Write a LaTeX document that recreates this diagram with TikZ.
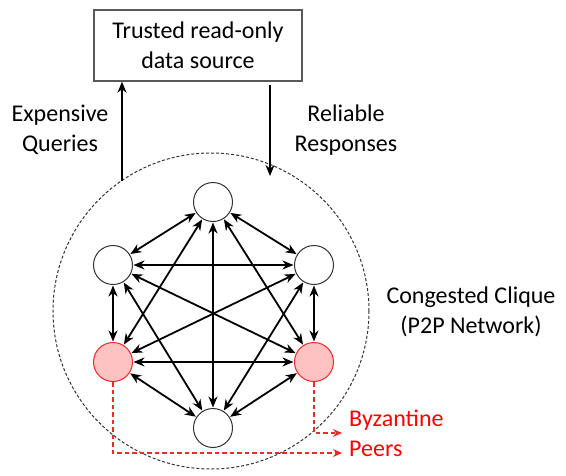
\documentclass[tikz,border=0pt]{standalone}
\usepackage{fontspec}
\setmainfont{Carlito}
\usetikzlibrary{arrows.meta}
\definecolor{pinkfill}{HTML}{FFC2C2}
\definecolor{redline}{HTML}{F02828}
\definecolor{redtext}{HTML}{FF0000}
\tikzset{
  peer/.style={circle, draw=black!80, line width=1pt, minimum size=39pt, inner sep=0pt, fill=white},
  byz/.style={peer, draw=redline, fill=pinkfill},
  link/.style={{Stealth[length=11pt,width=9pt,inset=3.5pt]}-{Stealth[length=11pt,width=9pt,inset=3.5pt]}, line width=1.8pt, shorten <=0.5pt, shorten >=0.5pt},
  flow/.style={-{Stealth[length=11pt,width=9pt,inset=3.5pt]}, line width=1.8pt},
  redflow/.style={-{Stealth[length=9pt,width=8pt,inset=3pt]}, redline, dash pattern=on 4.5pt off 3pt, line width=1.2pt},
  lbl/.style={align=center, font=\fontsize{24}{30}\selectfont, inner sep=0pt},
}
\begin{document}
\begin{tikzpicture}[x=1pt,y=-1pt]
\useasboundingbox (0,0) rectangle (566,475);
% source box
\node[draw=black!65, line width=1.4pt, minimum width=208pt, minimum height=71pt, lbl] (src) at (198,45.5) {Trusted read-only\\data source};
% network circle
\node[circle, draw=black!80, dash pattern=on 3pt off 2pt, line width=1pt, minimum size=316pt, inner sep=0pt] (net) at (211,311) {};
% labels
\node[lbl] (eq) at (60,130) {Expensive\\Queries};
\node[lbl] (rr) at (346,130) {Reliable\\Responses};
\node[lbl] (cc) at (471,312) {Congested Clique\\(P2P Network)};
\node[lbl, text=redtext, anchor=west, align=left] (bz) at (349,433) {Byzantine\\Peers};
% query/response arrows
\coordinate (q0) at (122,181);
\coordinate (r1) at (270,176);
\draw[flow] (q0) -- (q0 |- src.south);
\draw[flow] (r1 |- src.south) ++(0,3) coordinate (r0) -- (r1);
% peers
\node[peer] (A) at (213,202) {};
\node[peer] (B) at (113,265) {};
\node[peer] (C) at (314,265) {};
\node[byz]  (D) at (113,362) {};
\node[byz]  (E) at (314,362) {};
\node[peer] (F) at (213,428) {};
% links
\foreach \s/\t in {A/B,A/C,A/D,A/E,A/F,B/C,B/D,B/E,B/F,C/D,C/E,C/F,D/E,D/F,E/F}
  \draw[link] (\s) -- (\t);
% byzantine pointers
\coordinate (p1) at (342,433);
\coordinate (p2) at (342,453);
\draw[redflow] (E.south) |- (p1);
\draw[redflow] (D.south) |- (p2);
\end{tikzpicture}
\end{document}
